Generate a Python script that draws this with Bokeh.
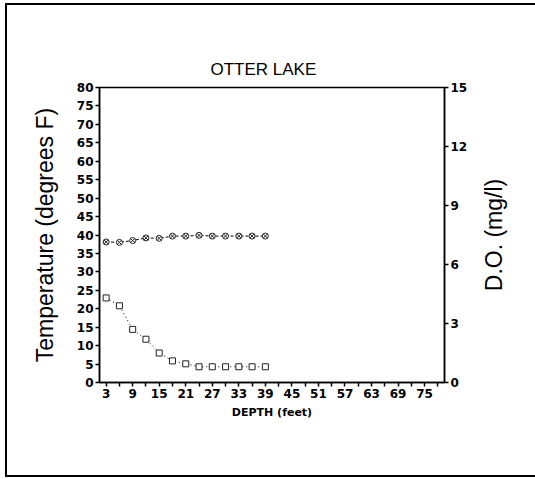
from bokeh.plotting import figure
from bokeh.layouts import row
from bokeh.models import Range1d, LinearAxis, FixedTicker, Title
from bokeh.embed import file_html
from bokeh.resources import INLINE

# ---- data ----
depth = [3, 6, 9, 12, 15, 18, 21, 24, 27, 30, 33, 36, 39]
temperature_f = [38.1, 38.0, 38.5, 39.2, 39.1, 39.7, 39.7, 39.9, 39.7, 39.7, 39.7, 39.7, 39.7]
dissolved_oxygen = [4.3, 3.9, 2.7, 2.2, 1.5, 1.1, 0.95, 0.8, 0.8, 0.8, 0.8, 0.8, 0.8]

x_ticks = [3, 6, 9, 12, 15, 18, 21, 24, 27, 30, 33, 36, 39, 42, 45, 48, 51, 54,
           57, 60, 63, 66, 69, 72, 75, 78]
x_tick_labels = ["3", "", "9", "", "15", "", "21", "", "27", "", "33", "", "39", "",
                 "45", "", "51", "", "57", "", "63", "", "69", "", "75", ""]
temp_ticks = [0, 5, 10, 15, 20, 25, 30, 35, 40, 45, 50, 55, 60, 65, 70, 75, 80]
do_ticks = [0, 3, 6, 9, 12, 15]

FONT = "Liberation Sans"
TICK_FONT = "DejaVu Sans"

p = figure(width=470, height=479, output_backend="svg", toolbar_location=None,
           x_range=Range1d(1.5, 79.5), y_range=Range1d(0, 80),
           min_border_left=99, min_border_right=26, min_border_top=87,
           min_border_bottom=97)
p.extra_y_ranges = {"do": Range1d(0, 15)}

p.grid.visible = False
p.outline_line_color = "black"
p.outline_line_width = 1.5
p.background_fill_color = "white"
p.border_fill_color = None

# title
t = Title(text="OTTER LAKE", align="left", offset=111, text_font=FONT,
          text_font_size="17px", text_font_style="normal", text_color="black",
          standoff=18)
p.add_layout(t, "above")

# x axis
xa = p.xaxis[0]
xa.ticker = FixedTicker(ticks=x_ticks, minor_ticks=[])
xa.major_label_overrides = {tk: lb for tk, lb in zip(x_ticks, x_tick_labels)}
xa.axis_label = "DEPTH (feet)"

# left axis
ya = p.yaxis[0]
ya.ticker = FixedTicker(ticks=temp_ticks, minor_ticks=[])
ya.axis_label = "Temperature (degrees F)"

# right axis
ra = LinearAxis(y_range_name="do", ticker=FixedTicker(ticks=do_ticks, minor_ticks=[]))
p.add_layout(ra, "right")

for ax in [xa, ya, ra]:
    ax.axis_line_color = "black"
    ax.axis_line_width = 1.5
    ax.major_tick_line_color = "black"
    ax.major_tick_line_width = 1.5
    ax.major_tick_in = 0
    ax.major_tick_out = 4
    ax.minor_tick_line_color = None
    ax.major_label_text_font = TICK_FONT
    ax.major_label_text_font_size = "12px"
    ax.major_label_text_font_style = "bold"
    ax.major_label_text_color = "black"
    ax.major_label_standoff = 2
    ax.axis_label_text_font = FONT
    ax.axis_label_text_font_style = "normal"
    ax.axis_label_text_color = "black"

xa.axis_label_text_font = TICK_FONT
xa.axis_label_text_font_size = "11px"
xa.axis_label_text_font_style = "bold"
xa.axis_label_standoff = 5
ya.axis_label_text_font_size = "23px"
ya.axis_label_standoff = 16

# temperature series (left axis)
p.line(depth, temperature_f, line_color="black", line_width=1, line_dash="3 2")
p.scatter(depth, temperature_f, marker="circle_x", size=6, line_color="#222222",
          fill_color="white", line_width=1)

# dissolved oxygen series (right axis)
p.line(depth, dissolved_oxygen, y_range_name="do", line_color="black", line_width=1,
       line_dash="1 3")
p.scatter(depth, dissolved_oxygen, y_range_name="do", marker="square", size=6,
          line_color="#222222", fill_color="white", line_width=1)

# narrow companion panel carrying the right-hand axis title (reads bottom to top)
p2 = figure(width=65, height=479, output_backend="svg", toolbar_location=None,
            x_range=Range1d(0, 1), y_range=Range1d(0, 15),
            min_border_left=40, min_border_right=0, min_border_top=87,
            min_border_bottom=97)
p2.grid.visible = False
p2.outline_line_color = None
p2.background_fill_color = None
p2.border_fill_color = None
p2.xaxis.visible = False
ax2 = p2.yaxis[0]
ax2.ticker = FixedTicker(ticks=[], minor_ticks=[])
ax2.axis_line_color = None
ax2.major_tick_line_color = None
ax2.minor_tick_line_color = None
ax2.axis_label = "D.O. (mg/l)"
ax2.axis_label_text_font = FONT
ax2.axis_label_text_font_size = "23px"
ax2.axis_label_text_font_style = "normal"
ax2.axis_label_text_color = "black"
ax2.axis_label_standoff = 4
p2.scatter([0.5], [7.5], alpha=0)

layout = row(p, p2, spacing=0)
layout.styles = {
    "box-shadow": "inset 5px 3px 0 0 white, inset 0 -2px 0 0 white, "
                  "inset 7px 5px 0 0 black, inset 0 -4px 0 0 black",
    "background-color": "white",
}

open("out.html", "w").write(file_html(layout, INLINE))
